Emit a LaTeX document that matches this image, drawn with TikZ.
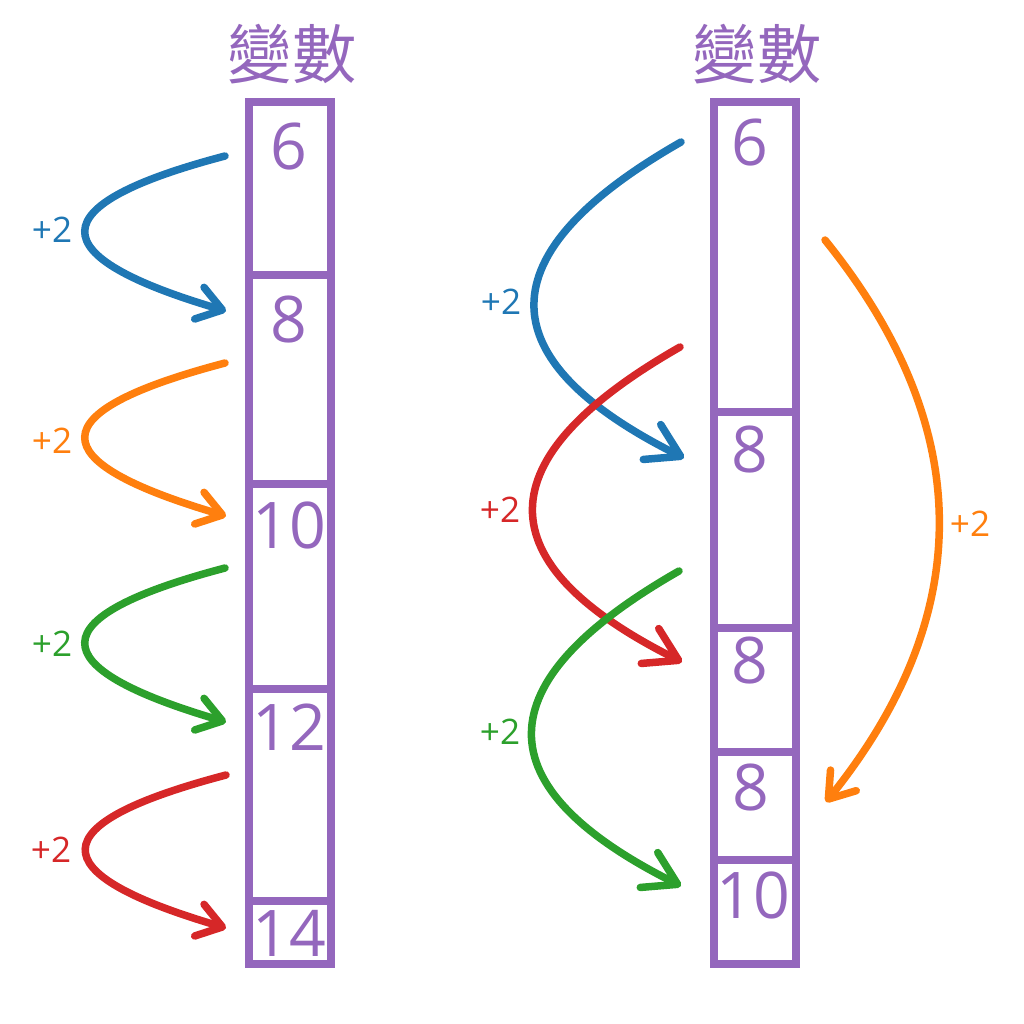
\documentclass[tikz,border=0pt]{standalone}
\usepackage{fontspec}
\setmainfont{Open Sans}
\newfontfamily\cjk{Noto Sans CJK TC}
\usetikzlibrary{arrows.meta}
\definecolor{vpurple}{HTML}{9467BD}
\definecolor{cblue}{HTML}{1F77B4}
\definecolor{corange}{HTML}{FF7F0E}
\definecolor{cgreen}{HTML}{2CA02C}
\definecolor{cred}{HTML}{D62728}
\begin{document}
\begin{tikzpicture}[x=0.01cm,y=-0.01cm,
	>={Straight Barb[length=0.24cm,width=0.33cm,round]},
	cell/.style={draw=vpurple,line width=0.075cm},
	num/.style={text=vpurple,inner sep=0pt,font=\fontsize{18.3}{22}\selectfont},
	title/.style={text=vpurple,inner sep=0pt,font=\cjk\fontsize{18.3}{22}\selectfont},
	inc/.style={inner sep=0pt,font=\fontsize{10}{12}\selectfont},
	arr/.style={->,line width=0.075cm,line cap=round},
	bigarr/.style={arr,-{Straight Barb[length=0.32cm,width=0.39cm,round]}}]
		\useasboundingbox (0,0) rectangle (1024,1024);
		% left column
		\node[title] (tl) at (292,54) {變數};
		\draw[cell] (249,102) rectangle (331,964);
		\draw[cell] (249,275) -- (331,275) (249,484) -- (331,484) (249,689) -- (331,689) (249,901) -- (331,901);
		\node[num] (l6) at (289,147) {6};
		\node[num] (l8) at (289,320) {8};
		\node[num] (l10) at (289,525) {10};
		\node[num] (l12) at (289,727) {12};
		\node[num] (l14) at (289,933) {14};
		\coordinate (la1) at (225,156); \coordinate (la2) at (226,311);
		\coordinate (lb1) at (225,363); \coordinate (lb2) at (226,516);
		\coordinate (lc1) at (225,568); \coordinate (lc2) at (226,722);
		\coordinate (ld1) at (226,775); \coordinate (ld2) at (226,928);
		\draw[arr,cblue] (la1) .. controls +(-186,49) and +(-187,-55) .. (la2);
		\draw[arr,corange] (lb1) .. controls +(-186,49) and +(-187,-55) .. (lb2);
		\draw[arr,cgreen] (lc1) .. controls +(-186,49) and +(-187,-55) .. (lc2);
		\draw[arr,cred] (ld1) .. controls +(-186,49) and +(-187,-55) .. (ld2);
		\node[inc,text=cblue] (lp1) at (52,230) {+2};
		\node[inc,text=corange] (lp2) at (52,441) {+2};
		\node[inc,text=cgreen] (lp3) at (52,644) {+2};
		\node[inc,text=cred] (lp4) at (51,850) {+2};
		% right column
		\node[title] (tr) at (757,54) {變數};
		\draw[cell] (714,102) rectangle (796,964);
		\draw[cell] (714,412) -- (796,412) (714,628) -- (796,628) (714,752) -- (796,752) (714,860) -- (796,860);
		\node[num] (r6) at (750,143) {6};
		\node[num] (r8a) at (750,450) {8};
		\node[num] (r8b) at (750,661) {8};
		\node[num] (r8c) at (751,788) {8};
		\node[num] (r10) at (753,895) {10};
		\coordinate (ra1) at (681,142); \coordinate (ra2) at (684,458);
		\coordinate (rb1) at (680,347); \coordinate (rb2) at (682,662);
		\coordinate (rc1) at (679,571); \coordinate (rc2) at (681,886);
		\coordinate (rd1) at (825,240); \coordinate (rd2) at (826,802);
		\draw[bigarr,cblue] (ra1) .. controls +(-196,112) and +(-198,-99) .. (ra2);
		\draw[bigarr,cred] (rb1) .. controls +(-196,112) and +(-198,-99) .. (rb2);
		\draw[bigarr,cgreen] (rc1) .. controls +(-196,112) and +(-198,-99) .. (rc2);
		\draw[arr,corange] (rd1) .. controls +(151,187) and +(151,-188) .. (rd2);
		\node[inc,text=cblue] (rp1) at (501,302) {+2};
		\node[inc,text=cred] (rp2) at (500,510) {+2};
		\node[inc,text=cgreen] (rp3) at (500,732) {+2};
		\node[inc,text=corange] (rp4) at (970,524) {+2};
\end{tikzpicture}
\end{document}
